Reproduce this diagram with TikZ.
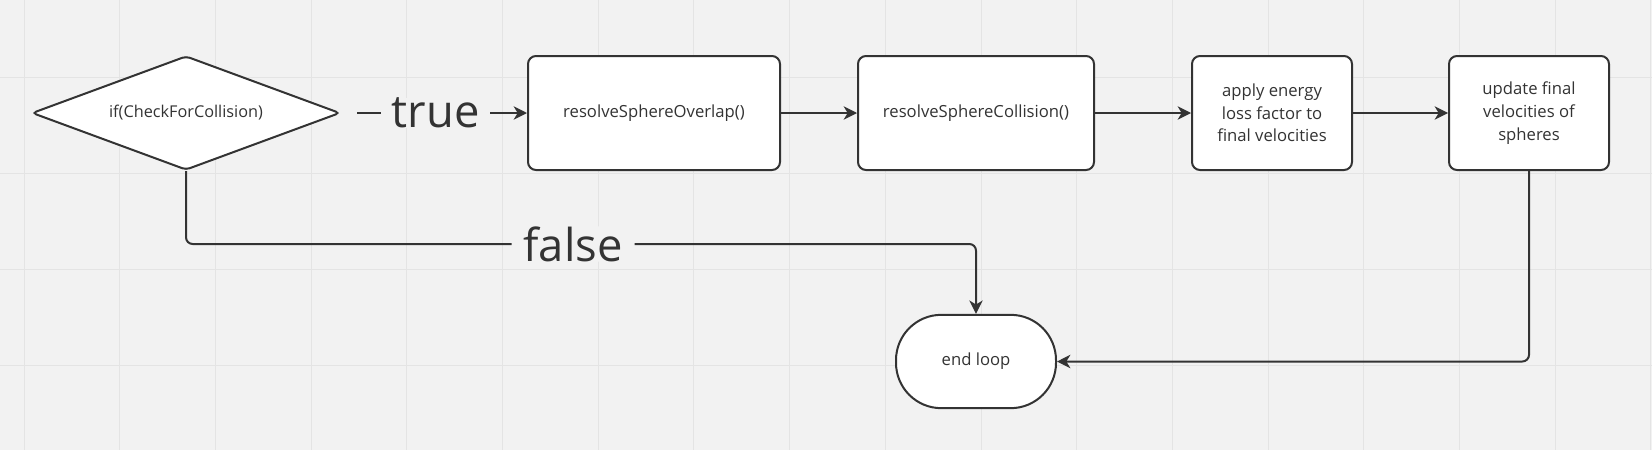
\documentclass[tikz,border=0pt]{standalone}
\usepackage{fontspec}
\setmainfont{Open Sans}
\usetikzlibrary{shapes.geometric, arrows.meta, positioning}
\definecolor{canvas}{HTML}{F2F2F2}
\definecolor{gridln}{HTML}{E4E4E4}
\definecolor{ink}{HTML}{333333}

\begin{document}
\begin{tikzpicture}[x=0.75pt, y=-0.75pt, >={Stealth[length=10pt, width=10pt, inset=3pt]},
    line width=1.5pt, draw=ink, text=ink,
    proc/.style={draw=ink, rounded corners=6pt, fill=white, minimum height=85.5pt, align=center, font=\fontsize{12.5}{17}\selectfont},
    cond/.style={draw=ink, diamond, aspect=2.7, fill=white, rounded corners=3pt, minimum width=231pt, minimum height=85.5pt, inner sep=0pt, font=\fontsize{12.2}{17}\selectfont},
    stop/.style={draw=ink, rounded corners=34pt, fill=white, minimum width=120pt, minimum height=70pt, font=\fontsize{12.5}{17}\selectfont},
    biglbl/.style={fill=canvas, inner xsep=8pt, inner ysep=0pt, font=\fontsize{34}{34}\selectfont}]
    % canvas and grid
    \fill[canvas] (0,0) rectangle (1652,450);
    \useasboundingbox (0,0) rectangle (1652,450);
    \foreach \gx in {0,...,17} \draw[gridln, line width=0.75pt] ({24+95.7*\gx},0) -- ({24+95.7*\gx},450);
    \foreach \gy in {77.7,173.7,269.7,365.7} \draw[gridln, line width=0.75pt] (0,\gy) -- (1652,\gy);
    % nodes
    \node[cond] (chk) at (186,113) {if(CheckForCollision)};
    \node[proc, minimum width=189pt] (ovl) at (654,113) {resolveSphereOverlap()};
    \node[proc, minimum width=177pt] (col) at (976,113) {resolveSphereCollision()};
    \node[proc, minimum width=120pt] (loss) at (1272,113) {apply energy\\loss factor to\\final velocities};
    \node[proc, minimum width=120pt] (upd) at (1529,113) {update final\\velocities of\\spheres};
    \node[stop] (endl) at (976,361.5) {end loop};
    % connectors
    \draw[->, shorten <=12pt] (chk) -- node[biglbl, pos=0.51] {true} (ovl);
    \draw[->] (ovl) -- (col);
    \draw[->] (col) -- (loss);
    \draw[->] (loss) -- (upd);
    \draw[->, rounded corners=5pt] (chk.south) -- ++(0,73) -| node[biglbl, pos=0.245, inner xsep=9pt] {false} (endl.north);
    \draw[->, rounded corners=5pt] (upd.south) |- (endl.east);
\end{tikzpicture}
\end{document}
